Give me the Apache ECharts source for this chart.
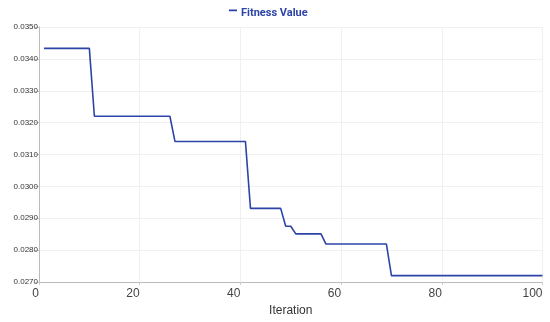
<!DOCTYPE html>
<html>
<head>
<meta charset="utf-8">
<script src="https://cdn.jsdelivr.net/npm/echarts@6/dist/echarts.min.js"></script>
<style>html,body{margin:0;padding:0;background:#fff}#c{width:550px;height:322px}</style>
</head>
<body>
<div id="c"></div>
<script>
// Breakpoints of the best-fitness curve (iteration, value)
const iterations = [1, 10, 11, 26, 27, 41, 42, 48, 49, 50, 51, 56, 57, 69, 70, 100];
const fitness = [0.03433, 0.03433, 0.03220, 0.03220, 0.03141, 0.03141, 0.02931, 0.02931,
                 0.02875, 0.02875, 0.02851, 0.02851, 0.02819, 0.02819, 0.02720, 0.02720];
const xTicks = [0, 20, 40, 60, 80, 100];
const yTicks = [0.027, 0.028, 0.029, 0.030, 0.031, 0.032, 0.033, 0.034, 0.035];
const seriesName = 'Fitness Value';

const chart = echarts.init(document.getElementById('c'));
chart.setOption({
  animation: false,
  legend: {
    top: 8, left: 229, padding: 0,
    icon: 'path://M0,0L8,0L8,1.8L0,1.8Z M0,8L8,8L8,7.99Z',
    itemWidth: 8, itemHeight: 8,
    itemGap: 4,
    textStyle: { color: '#2c44a8', fontWeight: 'bold', fontSize: 11, fontFamily: 'Roboto', padding: [0, 0, 0, -1] },
    data: [seriesName]
  },
  grid: { left: 39, right: 7.5, top: 27, bottom: 39, containLabel: false },
  xAxis: {
    type: 'value', min: xTicks[0], max: xTicks[xTicks.length - 1], interval: 20,
    name: 'Iteration', nameLocation: 'middle', nameGap: 23,
    nameTextStyle: { color: '#333', fontSize: 12, fontFamily: 'Liberation Sans' },
    axisLine: { lineStyle: { color: '#bbb' } },
    axisTick: { show: true, length: 3, lineStyle: { color: '#ccc' } },
    axisLabel: { color: '#444', fontSize: 12, fontFamily: 'Liberation Sans', margin: 6, align: 'right' },
    splitLine: { show: true, lineStyle: { color: '#f0f0f0' } }
  },
  yAxis: {
    type: 'value', min: yTicks[0], max: yTicks[yTicks.length - 1], interval: 0.001,
    axisLine: { show: true, lineStyle: { color: '#bbb' } },
    axisTick: { show: true, length: 4, lineStyle: { color: '#ccc' } },
    axisLabel: { color: '#333', fontSize: 8, fontFamily: 'Liberation Sans', margin: 1,
      formatter: v => v.toFixed(4) },
    splitLine: { show: true, lineStyle: { color: '#f0f0f0' } }
  },
  series: [{
    name: seriesName, type: 'line', showSymbol: false, symbol: 'none',
    color: '#2c44a8',
    lineStyle: { width: 1.6, color: '#2c44a8' },
    data: iterations.map((x, i) => [x, fitness[i]])
  }]
});
</script>
</body>
</html>
